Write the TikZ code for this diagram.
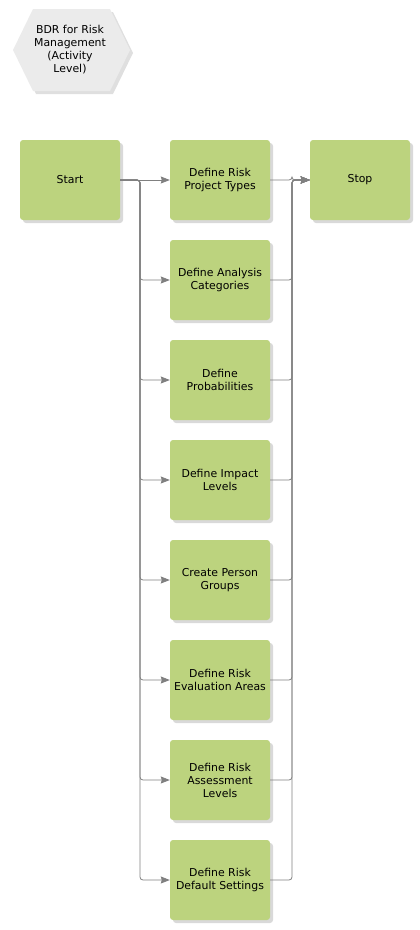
\documentclass[tikz,border=0pt]{standalone}
\usepackage{fontspec}
\setmainfont{DejaVu Sans}
\usetikzlibrary{shadows,arrows.meta}
\definecolor{boxgreen}{HTML}{BCD37E}
\definecolor{hexgray}{HTML}{EBEBEB}
\definecolor{linegray}{HTML}{808080}
\tikzset{
  stepbox/.style={rectangle, rounded corners=3pt, fill=boxgreen, minimum width=100pt, minimum height=80pt,
    align=center, font=\fontsize{10.9}{13}\selectfont, inner sep=0pt,
    drop shadow={shadow xshift=3pt, shadow yshift=-3pt, opacity=0.3, fill=black!50}},
  conn/.style={draw=linegray, line width=0.8pt, rounded corners=3pt, -{Stealth[length=9pt,width=7pt,inset=1pt]}},
}
\begin{document}
\begin{tikzpicture}[x=1pt,y=-1pt]
\useasboundingbox (0,0) rectangle (420,930);
% title hexagon
\fill[hexgray, drop shadow={shadow xshift=3pt, shadow yshift=-3pt, opacity=0.25, fill=black!50}]
  (13,50) -- (33,9) -- (110,9) -- (130,50) -- (110,91) -- (33,91) -- cycle;
\node[align=center, font=\fontsize{10.9}{13}\selectfont] (title) at (70,50) {BDR for Risk\\Management\\(Activity\\Level)};
% boxes
\node[stepbox] (start) at (70,180) {Start};
\node[stepbox] (stop) at (360,180) {Stop};
\node[stepbox] (b1) at (220,180) {Define Risk\\Project Types};
\node[stepbox] (b2) at (220,280) {Define Analysis\\Categories};
\node[stepbox] (b3) at (220,380) {Define\\Probabilities};
\node[stepbox] (b4) at (220,480) {Define Impact\\Levels};
\node[stepbox] (b5) at (220,580) {Create Person\\Groups};
\node[stepbox] (b6) at (220,680) {Define Risk\\Evaluation Areas};
\node[stepbox] (b7) at (220,780) {Define Risk\\Assessment\\Levels};
\node[stepbox] (b8) at (220,880) {Define Risk\\Default Settings};
\coordinate (lj) at (140,180);
\coordinate (rj) at (292,180);
% left fan
\draw[conn] (start.east) -- (b1.west);
\foreach \i in {2,...,8}{
  \draw[conn] (start.east) -- (lj) |- (b\i.west);
}
% right fan
\foreach \i in {1,...,8}{
  \draw[conn] (b\i.east) -| (rj) -- (stop.west);
}
\end{tikzpicture}
\end{document}
